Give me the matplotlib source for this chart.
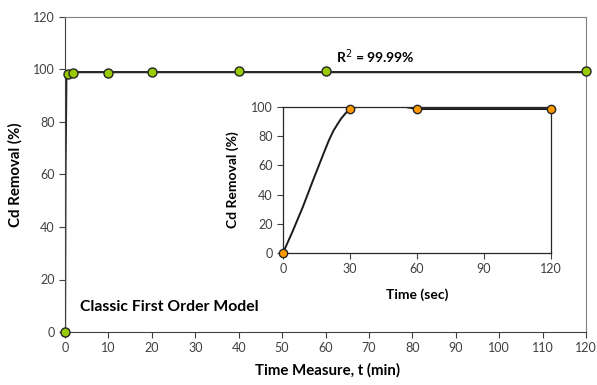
import matplotlib.pyplot as plt

plt.rcParams['font.family'] = ['Lato', 'DejaVu Sans']

# main chart: measured points (min, %)
t_min = [0, 0.6, 1.8, 10, 20, 40, 60, 120]
removal_min = [0, 98.2, 98.8, 98.8, 99.0, 99.3, 99.6, 99.6]
# first order model curve
model_t = [0, 0.1, 0.3, 0.6, 2, 120]
model_y = [0, 60, 96, 98.5, 99.0, 99.0]

# inset: first two minutes (sec, %)
t_sec = [0, 30, 60, 120]
removal_sec = [0, 98.3, 98.6, 98.6]
curve_t = [0, 4.5, 9, 13.5, 18, 20.5, 22.5, 24.5, 26, 28, 30, 34, 40, 46, 52, 56, 60, 120]
curve_y = [0, 15.5, 32, 50, 67.5, 77, 83.5, 88.5, 92, 95.7, 98.3, 100.8, 102.3, 102.3, 101,
           99.7, 98.6, 98.6]

W, H = 597, 385
fig = plt.figure(figsize=(W / 100, H / 100), dpi=100)

ax = fig.add_axes([65 / W, 1 - 332 / H, 521 / W, 315 / H])
ax.plot(model_t, model_y, color='#262626', lw=1.6, zorder=2)
ax.plot(t_min, removal_min, 'o', ms=6.5, mfc='#99cc00', mec='#262626', mew=1.0, zorder=3,
        clip_on=False)
ax.set_xlim(0, 120)
ax.set_ylim(0, 120)
ax.set_xticks(range(0, 121, 10))
ax.set_yticks(range(0, 121, 20))
ax.tick_params(labelsize=9, colors='#404040', length=4, width=0.8)
for s in ax.spines.values():
    s.set_color('#808080')
    s.set_linewidth(0.8)
ax.spines['bottom'].set_color('#404040')
ax.spines['left'].set_color('#404040')
ax.set_xlabel('Time Measure, t (min)', fontsize=10.8, fontweight='bold')
ax.set_ylabel('Cd Removal (%)', fontsize=10.8, fontweight='bold')
ax.xaxis.set_label_coords(0.503, -0.10)
ax.yaxis.set_label_coords(-0.082, 0.5)
ax.text(3.5, 9.5, 'Classic First Order Model', fontsize=11.3, fontweight='bold',
        va='center', ha='left')
ax.text(62.5, 105, r'R$^2$ = 99.99%', fontsize=10, fontweight='bold',
        va='center', ha='left')

ins = fig.add_axes([283 / W, 1 - 253 / H, 268 / W, 146 / H])
ins.plot(curve_t, curve_y, color='#1a1a1a', lw=1.4, zorder=2)
ins.plot(t_sec, removal_sec, 'o', ms=6, mfc='#ff9900', mec='#262626', mew=1.0, zorder=3,
         clip_on=False)
ins.set_xlim(0, 120)
ins.set_ylim(0, 100)
ins.set_xticks(range(0, 121, 30))
ins.set_yticks(range(0, 101, 20))
ins.tick_params(labelsize=9, colors='#404040', length=4, width=0.8)
for s in ins.spines.values():
    s.set_color('#262626')
    s.set_linewidth(0.9)
ins.set_xlabel('Time (sec)', fontsize=10, fontweight='bold')
ins.set_ylabel('Cd Removal (%)', fontsize=10, fontweight='bold')
ins.xaxis.set_label_coords(0.5, -0.245)
ins.yaxis.set_label_coords(-0.164, 0.5)

fig.savefig('out.png', dpi=100)
